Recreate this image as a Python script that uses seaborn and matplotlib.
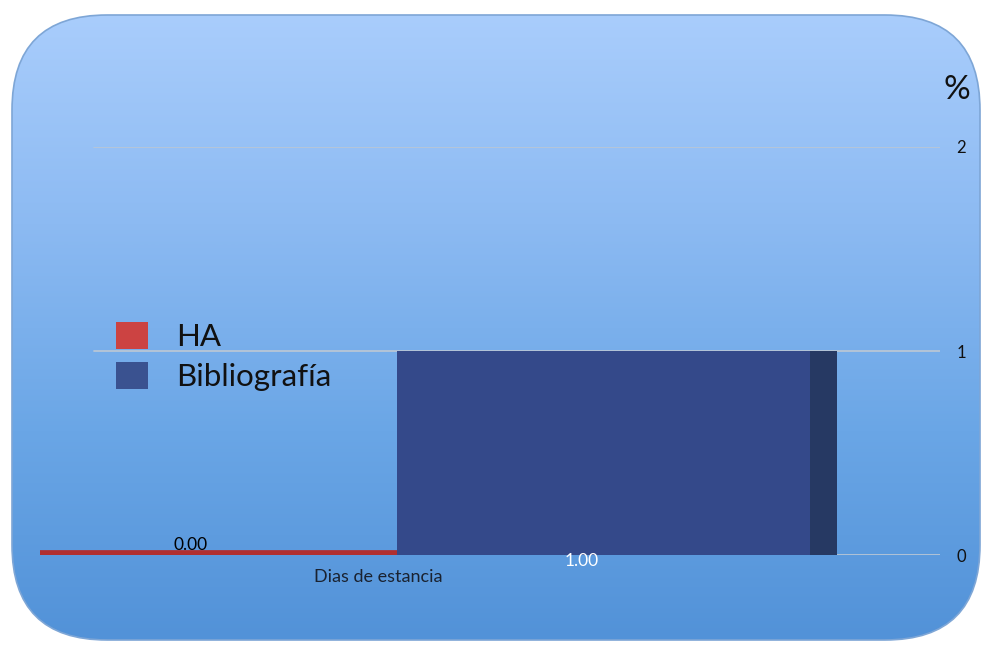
import numpy as np
import pandas as pd
import matplotlib
matplotlib.use("Agg")
import matplotlib.pyplot as plt
from matplotlib.patches import FancyBboxPatch, Rectangle, Patch
from matplotlib.colors import LinearSegmentedColormap
import matplotlib.transforms as mtransforms
import seaborn as sns

# ---- data ----
categories = ["Dias de estancia"]
series = ["HA", "Bibliografía"]
values = [0.00, 1.00]
value_labels = ["0.00", "1.00"]
y_ticks = [0, 1, 2]
y_unit = "%"

sns.set_theme(style="white")
plt.rcParams["font.family"] = ["Lato", "DejaVu Sans"]

W, H, DPI = 984, 645, 100
fig = plt.figure(figsize=(W / DPI, H / DPI), dpi=DPI)
fig.patch.set_facecolor("white")

# ---- rounded gradient panel behind the chart ----
bg = fig.add_axes([0, 0, 1, 1], zorder=0)
bg.set_xlim(0, W)
bg.set_ylim(0, H)
bg.axis("off")
panel = FancyBboxPatch((12, 5), 968, 625,
                       boxstyle="round,pad=0,rounding_size=95",
                       facecolor="none", edgecolor="#7ea6d6", linewidth=1.2,
                       zorder=3)
bg.add_patch(panel)
grad_cmap = LinearSegmentedColormap.from_list(
    "panel", ["#5292d8", "#6aa6e6", "#8cbaf2", "#a9cdfc"])
grad = np.linspace(0, 1, 256).reshape(-1, 1)
im = bg.imshow(grad, cmap=grad_cmap, aspect="auto", origin="lower",
               extent=(12, 980, 5, 630), zorder=1)
im.set_clip_path(panel)

# ---- bar chart ----
ax = fig.add_axes([0.0407, 0.1395, 0.9143, 0.6326], zorder=2)
ax.patch.set_alpha(0)

df = pd.DataFrame({
    "categoria": categories * len(series),
    "serie": series,
    "valor": values,
})
palette = {"HA": "#b02f30", "Bibliografía": "#34498a"}
sns.barplot(data=df, x="categoria", y="valor", hue="serie",
            palette=palette, width=0.8, saturation=1,
            legend=False, ax=ax, zorder=3)

ax.set_ylim(0, 2)
ax.set_xlim(-0.3245, 0.4936)

# gridlines
for t in y_ticks:
    ax.axhline(t, xmin=0.06, xmax=1.0, color="#b8c6d6", lw=1.3, zorder=1)

bars = [p for p in ax.patches if isinstance(p, Rectangle)]
bars = sorted(bars, key=lambda p: p.get_x())
# the zero-height bar is drawn as a thin red slab
red_bar, blue_bar = bars[0], bars[1]
red_bar.set_edgecolor("#b02f30")
red_bar.set_linewidth(7)
red_bar.set_joinstyle("miter")
blue_bar.set_edgecolor("none")

# darker side face on the blue bar
bx, bw, bh = blue_bar.get_x(), blue_bar.get_width(), blue_bar.get_height()
ax.add_patch(Rectangle((bx + bw * 0.94, 0), bw * 0.06, bh,
                       facecolor="#263963", edgecolor="none", zorder=4))

# value labels
ax.text(red_bar.get_x() + red_bar.get_width() * 0.53, 0.05, value_labels[0],
        ha="center", va="center", fontsize=12.5, color="black", zorder=6)
ax.text(bx + bw * 0.42, -0.03, value_labels[1],
        ha="center", va="center", fontsize=12.5, color="white", zorder=6)

# axes styling
for s in ax.spines.values():
    s.set_visible(False)
ax.set_xlabel("")
ax.set_ylabel("")
ax.yaxis.tick_right()
ax.set_yticks(y_ticks)
ax.set_yticklabels([str(t) for t in y_ticks])
ax.tick_params(axis="y", length=0, pad=12, labelsize=12, labelcolor="#111111")
ax.set_xticks([0])
ax.set_xticklabels(categories)
ax.tick_params(axis="x", length=0, pad=10, labelsize=13, labelcolor="#1a2230")
shift = mtransforms.ScaledTranslation(-19 / DPI, 0, fig.dpi_scale_trans)
for lbl in ax.get_xticklabels():
    lbl.set_transform(lbl.get_transform() + shift)

fig.text(957 / W, 1 - 90 / H, y_unit, ha="center", va="center",
         fontsize=24, color="#111111")

# legend
handles = [Patch(facecolor="#cc4342", edgecolor="none"),
           Patch(facecolor="#3a5290", edgecolor="none")]
fig.legend(handles, series, loc="upper left",
           bbox_to_anchor=(103 / W, 1 - 309 / H), frameon=False,
           fontsize=22.5, handlelength=1.03, handleheight=1.0,
           handletextpad=0.9, labelspacing=0.33, borderaxespad=0,
           labelcolor="#111111")

fig.savefig("out.png", dpi=DPI)
